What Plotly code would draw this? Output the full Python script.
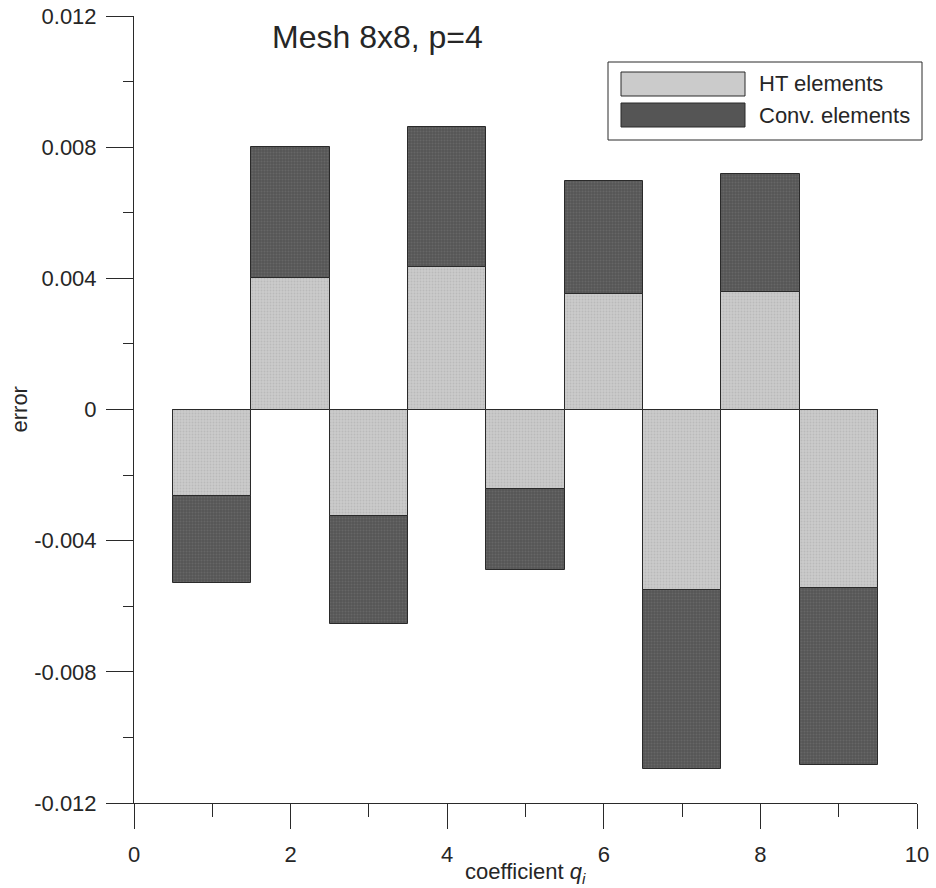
import plotly.graph_objects as go

# ---- data ----
coefficients = [1, 2, 3, 4, 5, 6, 7, 8, 9]
ht_error = [-0.00265, 0.0040, -0.00325, 0.00435, -0.00243, 0.00353, -0.0055, 0.00358, -0.00544]
conv_error = [-0.0053, 0.0080, -0.00654, 0.00863, -0.0049, 0.00697, -0.01097, 0.00718, -0.01085]
series_names = ["HT elements", "Conv. elements"]
x_ticks = [0, 2, 4, 6, 8, 10]
y_ticks = [-0.012, -0.008, -0.004, 0, 0.004, 0.008, 0.012]
y_tick_labels = ["-0.012", "-0.008", "-0.004", "0", "0.004", "0.008", "0.012"]

LIGHT = "#cbcbcb"
DARK = "#555555"
EDGE = "#2a2a2a"
TXT = "#262626"
FONT = "Liberation Sans, Arial, sans-serif"

fig = go.Figure()
fig.add_trace(go.Bar(
    x=coefficients, y=conv_error, width=1, name=series_names[1],
    marker=dict(color=DARK, line=dict(color=EDGE, width=1),
                pattern=dict(shape=".", fgcolor="#777777", bgcolor=DARK, size=3, solidity=0.35)),
    showlegend=False,
))
fig.add_trace(go.Bar(
    x=coefficients, y=ht_error, width=1, name=series_names[0],
    marker=dict(color=LIGHT, line=dict(color=EDGE, width=1),
                pattern=dict(shape=".", fgcolor="#a9a9a9", bgcolor=LIGHT, size=3, solidity=0.35)),
    showlegend=False,
))

W, H = 936, 888
L, R, T, B = 134, 19, 16, 85
pw, ph = W - L - R, H - T - B

def px(xp):
    return (xp - L) / pw

def py(yp):
    return (H - B - yp) / ph

shapes = [
    # legend frame
    dict(type="rect", xref="paper", yref="paper", x0=px(608), x1=px(922), y0=py(140), y1=py(62),
         line=dict(color=EDGE, width=1), fillcolor="white"),
    dict(type="rect", xref="paper", yref="paper", x0=px(621), x1=px(745), y0=py(96), y1=py(72),
         line=dict(color=EDGE, width=1), fillcolor=LIGHT),
    dict(type="rect", xref="paper", yref="paper", x0=px(621), x1=px(745), y0=py(127), y1=py(103),
         line=dict(color=EDGE, width=1), fillcolor=DARK),
]

annotations = [
    dict(text="Mesh 8x8, p=4", xref="paper", yref="paper", x=px(377), y=py(37),
         xanchor="center", yanchor="middle", showarrow=False, font=dict(size=32, color=TXT, family=FONT)),
    dict(text=series_names[0], xref="paper", yref="paper", x=px(757), y=py(84),
         xanchor="left", yanchor="middle", showarrow=False, font=dict(size=22, color=TXT, family=FONT)),
    dict(text=series_names[1], xref="paper", yref="paper", x=px(757), y=py(115),
         xanchor="left", yanchor="middle", showarrow=False, font=dict(size=22, color=TXT, family=FONT)),
    dict(text="error", xref="paper", yref="paper", x=px(19), y=0.5, textangle=-90,
         xanchor="center", yanchor="middle", showarrow=False, font=dict(size=22, color=TXT, family=FONT)),
    dict(text="coefficient <i>q</i><sub><i>i</i></sub>", xref="paper", yref="paper", x=0.5, y=py(873),
         xanchor="center", yanchor="middle", showarrow=False, font=dict(size=22, color=TXT, family=FONT)),
]

fig.update_layout(
    width=W, height=H,
    margin=dict(l=L, r=R, t=T, b=B, pad=0),
    paper_bgcolor="white", plot_bgcolor="white",
    barmode="overlay", bargap=0,
    showlegend=False,
    shapes=shapes, annotations=annotations,
    font=dict(family=FONT, color=TXT),
    xaxis=dict(range=[0, 10], tickvals=x_ticks, ticktext=[str(v) for v in x_ticks],
               automargin=False,
               showgrid=False, zeroline=False, showline=True, linecolor=EDGE, linewidth=1,
               ticks="outside", ticklen=25, tickcolor=EDGE, tickwidth=1,
               ticklabelstandoff=7,
               minor=dict(ticks="outside", ticklen=13, dtick=1, tick0=0, tickcolor=EDGE, tickwidth=1, showgrid=False),
               tickfont=dict(size=22, color=TXT, family=FONT)),
    yaxis=dict(range=[-0.012, 0.012], tickvals=y_ticks, ticktext=y_tick_labels,
               automargin=False,
               showgrid=False, zeroline=False, showline=True, linecolor=EDGE, linewidth=1,
               ticks="outside", ticklen=27, tickcolor=EDGE, tickwidth=1,
               ticklabelstandoff=5,
               minor=dict(ticks="outside", ticklen=10, dtick=0.002, tick0=0, tickcolor=EDGE, tickwidth=1, showgrid=False),
               tickfont=dict(size=22, color=TXT, family=FONT)),
)

fig.write_html("out.html")
